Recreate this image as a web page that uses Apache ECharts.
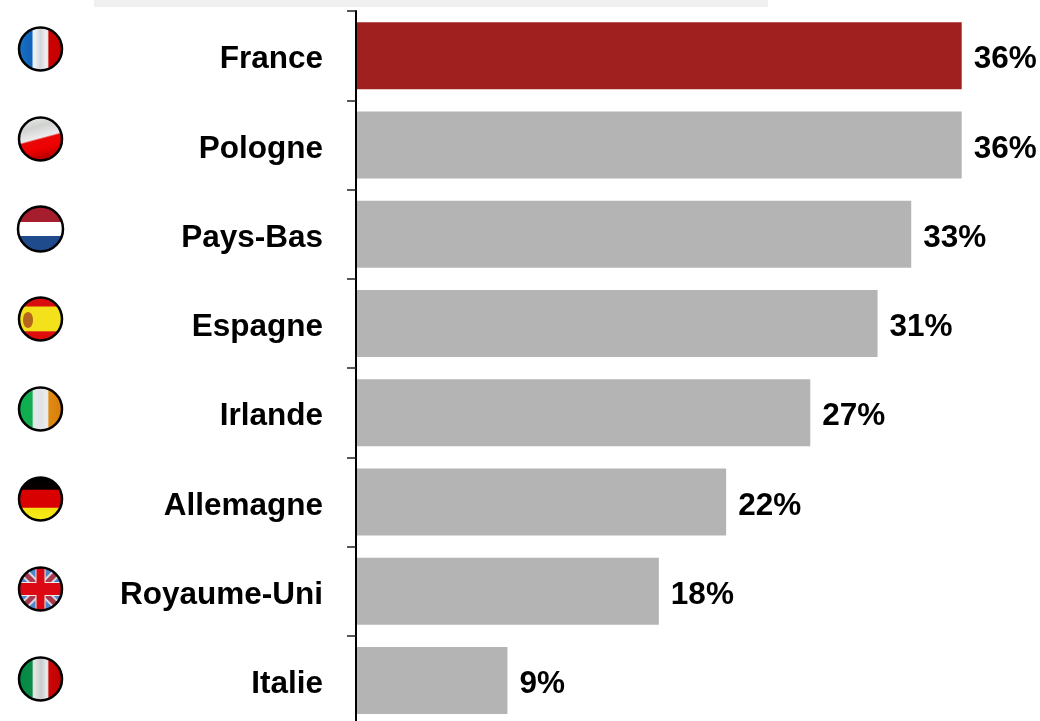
<!DOCTYPE html>
<html>
<head>
<meta charset="utf-8">
<style>
    html, body { margin: 0; padding: 0; background: #fff; }
    #chart { width: 1040px; height: 721px; }
</style>
<script src="https://cdn.jsdelivr.net/npm/echarts@6/dist/echarts.min.js"></script>
</head>
<body>
<div id="chart"></div>
<script>
const categories = ["France", "Pologne", "Pays-Bas", "Espagne", "Irlande", "Allemagne", "Royaume-Uni", "Italie"];
const shares = [36, 36, 33, 31, 27, 22, 18, 9];
const highlighted = "France";

const FONT = '"Liberation Sans", Arial, sans-serif';

// soft stripes, like the waving flag pictures
function stripes(stops, x2, y2) {
    return {
        type: "linear", x: 0, y: 0, x2: x2 === undefined ? 1 : x2, y2: y2 === undefined ? 0 : y2,
        colorStops: stops.map(s => ({ offset: s[0], color: s[1] }))
    };
}

const flagFills = {
    France: stripes([[0, "#1a72c4"], [0.29, "#0f62b8"], [0.34, "#f2f6fc"], [0.5, "#d4d7da"], [0.66, "#f4f4f4"], [0.7, "#cc0000"], [1, "#c40000"]]),
    Pologne: stripes([[0, "#f0f0f0"], [0.3, "#d0d2d0"], [0.56, "#ececec"], [0.6, "#e80808"], [0.8, "#f00000"], [1, "#c00000"]], 0.27, 1),
    "Pays-Bas": stripes([[0, "#a61e2d"], [0.34, "#a61e2d"], [0.345, "#ffffff"], [0.655, "#ffffff"], [0.66, "#1f4a8c"], [1, "#1f4a8c"]], 0, 1),
    Espagne: stripes([[0, "#dc0a0a"], [0.19, "#d81010"], [0.23, "#f3e11c"], [0.77, "#f3e11c"], [0.8, "#dc1010"], [1, "#e00808"]], 0, 1),
    Irlande: stripes([[0, "#0cb04e"], [0.3, "#12ac50"], [0.34, "#e6e8ea"], [0.52, "#e0e2e6"], [0.66, "#eeeeee"], [0.7, "#e08a10"], [1, "#d87e0c"]]),
    Allemagne: stripes([[0, "#000000"], [0.27, "#080000"], [0.3, "#d80000"], [0.69, "#d80000"], [0.72, "#f4e210"], [1, "#f8ec18"]], 0, 1),
    "Royaume-Uni": "#4a86c8",
    Italie: stripes([[0, "#048a44"], [0.3, "#0a8c48"], [0.34, "#e8e8e8"], [0.52, "#c8cccc"], [0.66, "#eeeeee"], [0.7, "#cc0606"], [1, "#c00000"]])
};

const FLAG_X = 40.5;
const FLAG_TOP = 49;
const FLAG_STEP = 90;
const FLAG_R = 21.5;

function unionJack(cx, cy, r) {
    const clip = { type: "circle", shape: { cx: cx, cy: cy, r: r } };
    const bar = (x1, y1, x2, y2, w, color) => ({
        type: "line", clipPath: clip,
        shape: { x1: cx + x1 * r, y1: cy + y1 * r, x2: cx + x2 * r, y2: cy + y2 * r },
        style: { stroke: color, lineWidth: w }
    });
    return [
        bar(-1, -1, 1, 1, 9, "#e0d8e2"), bar(-1, 1, 1, -1, 9, "#e0d8e2"),
        bar(-1, -1, 1, 1, 5, "#a83a50"), bar(-1, 1, 1, -1, 5, "#a83a50"),
        bar(0, -1, 0, 1, 10, "#efe6ea"), bar(-1, 0, 1, 0, 14, "#efe6ea"),
        bar(0, -1, 0, 1, 8, "#dc0814"), bar(-1, 0, 1, 0, 12, "#dc0814")
    ];
}

function flagElements() {
    const out = [];
    categories.forEach((name, i) => {
        const cy = FLAG_TOP + i * FLAG_STEP;
        const r = name === "Pays-Bas" ? FLAG_R + 1 : FLAG_R;
        out.push({ type: "circle", z: 10, shape: { cx: FLAG_X, cy: cy, r: r }, style: { fill: flagFills[name] } });
        if (name === "Royaume-Uni") {
            unionJack(FLAG_X, cy, r).forEach(el => out.push(Object.assign(el, { z: 11 })));
        }
        if (name === "Espagne") {
            out.push({ type: "ellipse", z: 11, shape: { cx: FLAG_X - 12.5, cy: cy + 1, rx: 5, ry: 8 }, style: { fill: "#b5651d" } });
        }
        out.push({ type: "circle", z: 12, shape: { cx: FLAG_X, cy: cy, r: r }, style: { fill: "none", stroke: "#000", lineWidth: 2.5 } });
    });
    return out;
}

const chart = echarts.init(document.getElementById("chart"));
chart.setOption({
    animation: false,
    backgroundColor: "#fff",
    grid: { left: 356, top: 11, width: 673, height: 714, outerBoundsMode: "none" },
    xAxis: { type: "value", min: 0, max: 40, show: false },
    yAxis: {
        type: "category",
        inverse: true,
        z: 5,
        data: categories,
        axisLine: { show: true, lineStyle: { color: "#000", width: 2 } },
        axisTick: { show: true, length: 9, lineStyle: { color: "#222", width: 1.5 } },
        axisLabel: {
            margin: 33,
            formatter: v => "{name|" + v + "}",
            rich: {
                name: {
                    color: "#000", fontFamily: FONT, fontWeight: "bold", fontSize: 31.5,
                    padding: [8, 0, 0, 0]
                }
            }
        }
    },
    series: [{
        type: "bar",
        data: shares,
        barWidth: 67,
        itemStyle: {
            color: p => (categories[p.dataIndex] === highlighted ? "#a02020" : "#b4b4b4")
        },
        label: {
            show: true,
            position: "right",
            distance: 12,
            offset: [0, 4],
            formatter: "{c}%",
            color: "#000",
            fontFamily: FONT,
            fontWeight: "bold",
            fontSize: 31.5
        }
    }],
    graphic: {
        elements: [
            { type: "rect", z: 1, shape: { x: 94, y: 0, width: 674, height: 7 }, style: { fill: "#f0f0f0" } }
        ].concat(flagElements())
    }
});
</script>
</body>
</html>
